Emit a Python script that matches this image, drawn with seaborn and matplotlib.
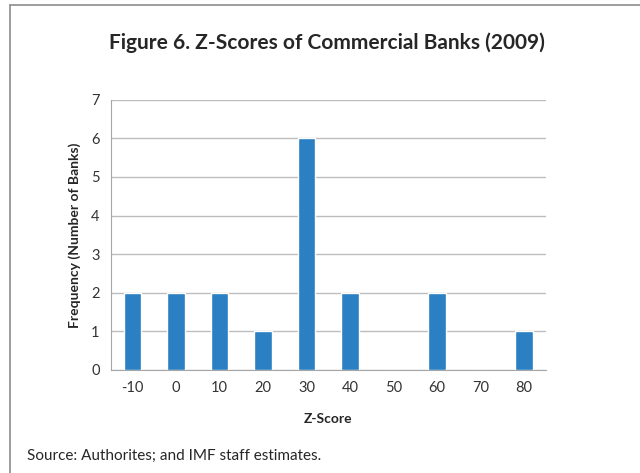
import pandas as pd
import numpy as np
import matplotlib.pyplot as plt
import seaborn as sns
from matplotlib.lines import Line2D

z_scores = ['-10', '0', '10', '20', '30', '40', '50', '60', '70', '80']
counts = [2, 2, 2, 1, 6, 2, 0, 2, 0, 1]

sns.set_style('white')
plt.rcParams['font.family'] = ['Lato', 'DejaVu Sans']

df = pd.DataFrame({'zscore': z_scores, 'count': counts})

fig = plt.figure(figsize=(6.4, 4.73), dpi=100)
ax = fig.add_axes([0.173, 0.218, 0.68, 0.571])

sns.barplot(data=df, x='zscore', y='count', order=z_scores, color='#2a80c2',
            width=0.4, saturation=1, ax=ax, zorder=3)

ax.set_ylim(0, 7)
ax.set_yticks(range(0, 8))
ax.grid(axis='y', color='#bdbdbd', linewidth=1, zorder=0)
ax.set_axisbelow(True)
for s in ['top', 'right']:
    ax.spines[s].set_visible(False)
ax.spines['left'].set_color('#a6a6a6')
ax.spines['bottom'].set_color('#a6a6a6')
ax.tick_params(axis='both', length=0, labelsize=10.5, colors='#333333', pad=8)

ax.set_xlabel('Z-Score', fontsize=10, fontweight='bold', labelpad=13)
ax.set_ylabel('Frequency (Number of Banks)', fontsize=10, fontweight='bold', labelpad=7)

fig.text(0.511, 0.91, 'Figure 6. Z-Scores of Commercial Banks (2009)',
         ha='center', va='center', fontsize=15, fontweight='bold')
fig.text(0.042, 0.036, 'Source: Authorites; and IMF staff estimates.',
         ha='left', va='center', fontsize=11)

# outer frame
fig.add_artist(Line2D([10/640, 1], [1 - 5/473, 1 - 5/473], color='#8c8c8c', linewidth=1.2))
fig.add_artist(Line2D([10/640, 10/640], [0, 1 - 5/473], color='#8c8c8c', linewidth=1.2))

fig.savefig('out.png', dpi=100)
